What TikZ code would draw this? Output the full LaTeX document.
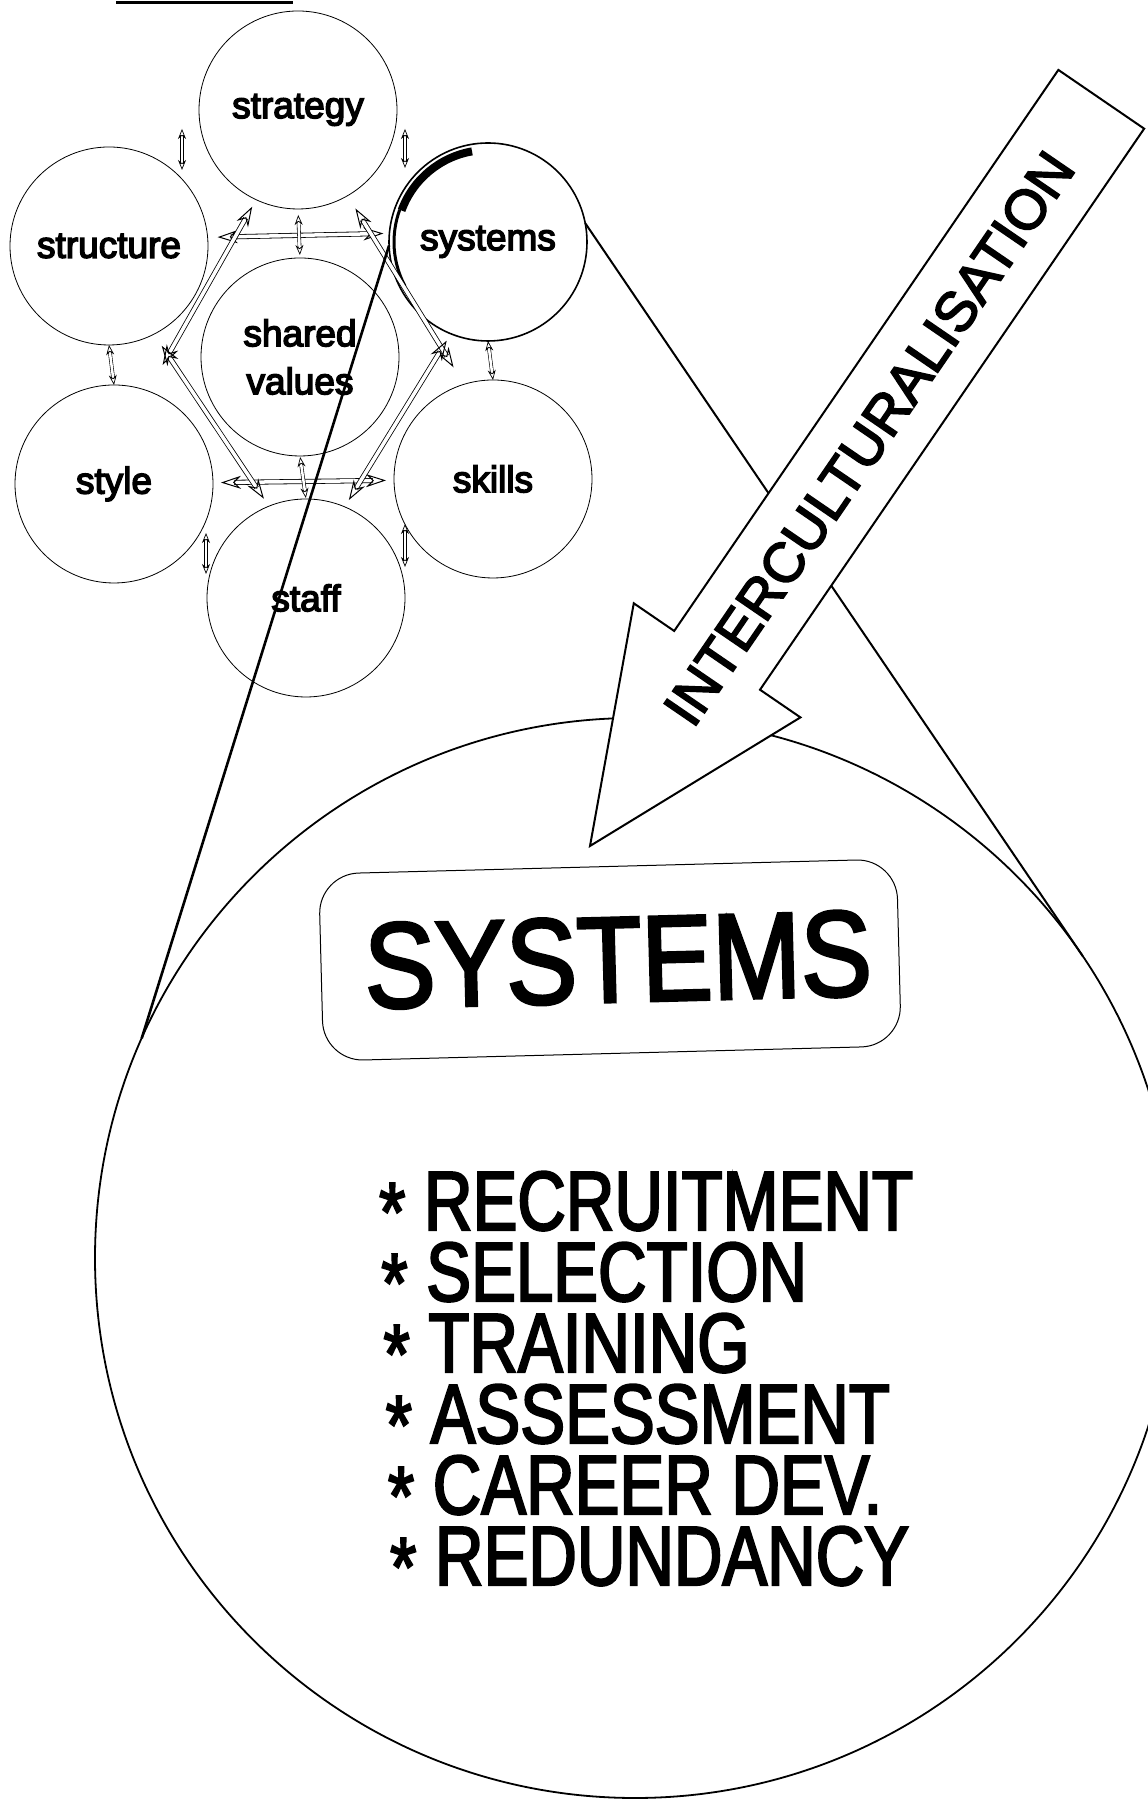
\documentclass[tikz,border=0pt]{standalone}
\usepackage{fontspec}
\setmainfont{Liberation Sans}
\newfontfamily\heavysans{Liberation Sans}[FakeBold=4]
\newfontfamily\arrowsans{Liberation Sans}[FakeBold=3]
\newfontfamily\narrowsans{Liberation Sans}[FakeStretch=0.8, FakeBold=2.5]
\newfontfamily\titlesans{Liberation Sans}[FakeStretch=0.87, FakeBold=2.5]
\usetikzlibrary{arrows.meta,calc}

\tikzset{
	ring/.style={circle, draw, line width=0.8pt, minimum size=198pt, inner sep=0pt, outer sep=0pt, align=center, font=\heavysans\fontsize{37}{48}\selectfont},
	hexarrow/.style={double, double distance=3.5pt, line width=0.8pt,
		{Stealth[open, length=20pt, width=13pt, line width=1pt]}-{Stealth[open, length=20pt, width=13pt, line width=1pt]}},
	tinyarrow/.style={double, double distance=2.5pt, line width=0.6pt,
		{Stealth[open, length=10pt, width=8pt, line width=0.7pt]}-{Stealth[open, length=10pt, width=8pt, line width=0.7pt]}},
	lens/.style={circle, draw, line width=1.8pt, minimum size=1080pt, inner sep=0pt, outer sep=0pt},
	lensline/.style={line width=2pt},
	sysbox/.style={draw, line width=1pt, rounded corners=40pt, minimum width=578pt, minimum height=187pt, inner sep=0pt, font=\titlesans\fontsize{122}{122}\selectfont},
	listitem/.style={inner sep=0pt, font=\narrowsans\fontsize{84}{84}\selectfont},
	bigarrow/.style={draw, fill=white, line width=2pt, line join=miter}
}

\begin{document}
\begin{tikzpicture}[x=1pt, y=1pt]
	\useasboundingbox (0,0) rectangle (1148,1800) ;

	\draw[line width=3pt] (116,1797) -- (293,1797) ;

	\node[ring] (strategy) at (298,1690) {strategy} ;
	\node[ring] (structure) at (109,1554) {structure} ;
	\node[ring, line width=1.6pt] (systems) at (488,1558) {systems} ;
	\node[ring] (shared) at (300,1443) {shared\\values} ;
	\node[ring] (style) at (114,1316) {style} ;
	\node[ring] (skills) at (493,1321) {skills} ;
	\node[ring] (staff) at (306,1202) {staff} ;

	\draw[line width=8pt] (systems.center) ++(100:92) arc[start angle=100, end angle=160, radius=92] ;
	\draw[line width=3pt] (systems.center) ++(160:94) arc[start angle=160, end angle=208, radius=94] ;

	\draw[hexarrow, shorten <=10pt, shorten >=6pt] (structure.5) -- (systems.175) ;
	\draw[hexarrow, shorten <=8pt, shorten >=8pt] (style) -- (skills) ;
	\draw[hexarrow, shorten <=8pt, shorten >=30pt] (strategy.245) -- (style.70) ;
	\draw[hexarrow, shorten <=15pt, shorten >=20pt] (strategy.300) -- (skills.107) ;
	\draw[hexarrow, shorten <=14pt, shorten >=9pt] (structure.297) -- (staff.112) ;
	\draw[hexarrow, shorten <=8pt, shorten >=8pt] (systems.248) -- (staff.67) ;

	\draw[tinyarrow, shorten <=6pt, shorten >=3pt] (strategy.south) -- (shared.north) ;
	\draw[tinyarrow, shorten <=1pt, shorten >=1pt] (shared.south) -- (staff.north) ;
	\draw[tinyarrow] (structure.south) -- (style.north) ;
	\draw[tinyarrow] (systems.south) -- (skills.north) ;
	\draw[tinyarrow] ([shift={(3,6)}]structure.north east) -- ++(0,41) ;
	\draw[tinyarrow] ([shift={(-13,4)}]systems.north west) -- ++(0,39) ;
	\draw[tinyarrow] ([shift={(22,-20)}]style.south east) -- ++(0,41) ;
	\draw[tinyarrow] ([shift={(-18,-18)}]skills.south west) -- ++(0,43) ;

	\node[lens] (lens) at (635,542) {} ;
	\node[sysbox, rotate=1.5] (sysbox) at (610,840) {\hspace*{16pt}SYSTEMS} ;
	\foreach \entry [count=\i from 0] in {RECRUITMENT, SELECTION, TRAINING, ASSESSMENT, CAREER DEV., REDUNDANCY}
		\node[listitem, anchor=base west] (item\i) at (379+2.2*\i, 570-71*\i) {\raisebox{-11pt}{*} \entry} ;

	\draw[lensline, line width=2.6pt] (systems.182) -- (lens.156) ;
	\draw[lensline] (systems.11) -- (lens.34) ;

	\begin{scope}[shift={(590,954)}, rotate=55.6]
		\draw[bigarrow] (0,0) -- (225,101) -- (225,52) -- (905,52) -- (905,-52) -- (225,-52) -- (225,-101) -- cycle ;
		\node[transform shape, font=\arrowsans\fontsize{56}{56}\selectfont] (intercult) at (494,0) {INTERCULTURALISATION} ;
	\end{scope}
\end{tikzpicture}
\end{document}
